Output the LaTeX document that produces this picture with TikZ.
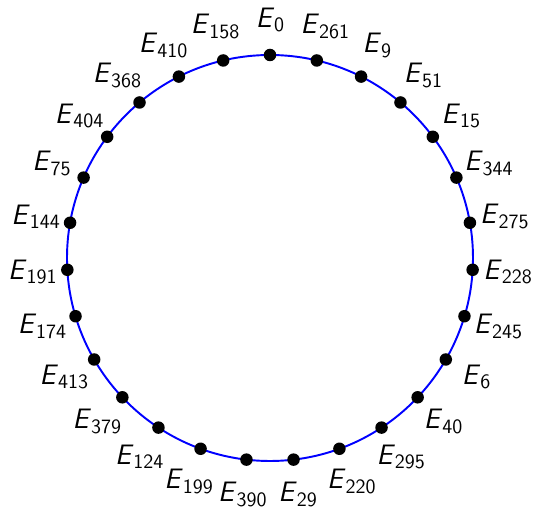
\documentclass[tikz,border=0pt]{standalone}
\usepackage{tikz}

\begin{document}
\begin{tikzpicture}[font=\sffamily\fontsize{16}{19}\selectfont]
    \tikzstyle{ring}=[draw=blue, line width=1.1pt]
    \tikzstyle{dot}=[circle, fill=black, inner sep=0pt, minimum size=0.25cm]
    \tikzstyle{tag}=[inner sep=0pt]

    \useasboundingbox (-5.4,-5.0) rectangle (5.3,5.16);
    \draw[ring] (0,0) circle (4.06);

    \foreach \lab [count=\i from 0] in {0,261,9,51,15,344,275,228,245,6,40,295,220,29,390,199,124,379,413,174,191,144,75,404,368,410,158} {
        \node[dot] (p\i) at ({90-\i*360/27}:4.06) {};
        \node[tag] (e\i) at ({90-\i*360/27}:4.76) {\textit{E}\raisebox{-2.6pt}{\fontsize{11.6}{13}\selectfont\lab}};
    }
\end{tikzpicture}
\end{document}
